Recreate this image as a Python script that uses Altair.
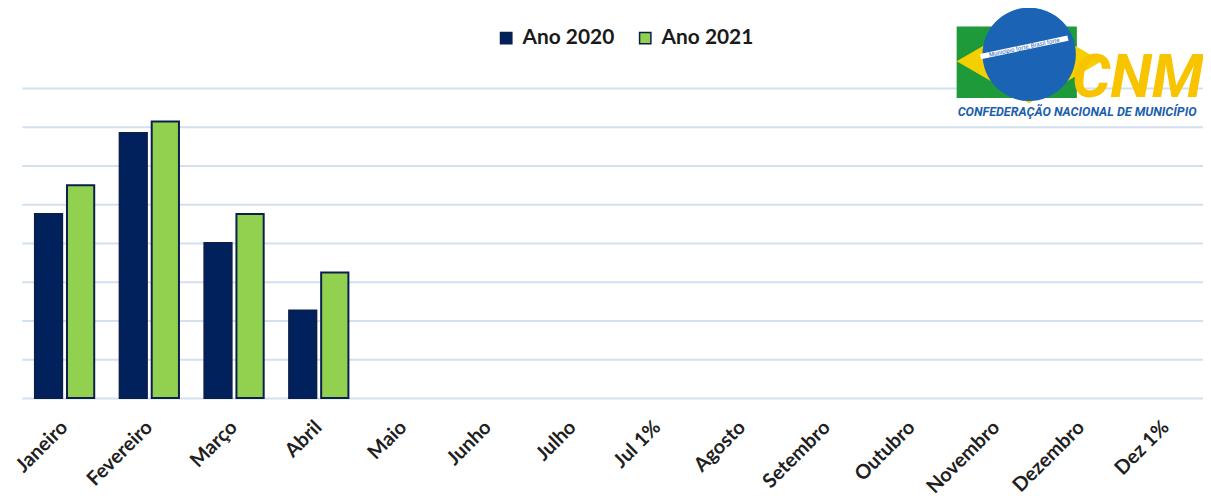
import altair as alt
import pandas as pd

months = ["Janeiro", "Fevereiro", "Março", "Abril", "Maio", "Junho", "Julho",
          "Jul 1%", "Agosto", "Setembro", "Outubro", "Novembro", "Dezembro", "Dez 1%"]
ano_2020 = [4.75, 6.84, 4.0, 2.26, None, None, None, None, None, None, None, None, None, None]
ano_2021 = [5.49, 7.14, 4.75, 3.24, None, None, None, None, None, None, None, None, None, None]
series = ["Ano 2020", "Ano 2021"]
colors = ["#00215b", "#92d050"]
grid_values = [0, 1, 2, 3, 4, 5, 6, 7, 8]

rows = []
for m, a, b in zip(months, ano_2020, ano_2021):
    rows.append({"mes": m, "serie": series[0], "valor": a})
    rows.append({"mes": m, "serie": series[1], "valor": b})
df = pd.DataFrame(rows)

FONT = "Lato"
LOGO_FONT = "Roboto"

bars = alt.Chart(df).mark_bar(stroke="#0b1f4d", strokeWidth=2).encode(
    x=alt.X("mes:N", sort=months, title=None,
            scale=alt.Scale(domain=months, paddingInner=0.3, paddingOuter=0.12, align=0.64),
            axis=alt.Axis(labelAngle=-45, labelAlign="right", labelBaseline="middle",
                          labelFont=FONT, labelFontSize=20, labelFontWeight="bold",
                          labelColor="#1f1f1f", labelPadding=26, ticks=False,
                          domain=False, grid=False, labelOverlap=False)),
    xOffset=alt.XOffset("serie:N", scale=alt.Scale(paddingInner=0.15)),
    y=alt.Y("valor:Q", title=None, scale=alt.Scale(domain=[0, 8], nice=False),
            axis=alt.Axis(values=grid_values, labels=False, ticks=False, domain=False,
                          grid=True, gridColor="#d3e0f0", gridWidth=2)),
    color=alt.Color("serie:N", scale=alt.Scale(domain=series, range=colors),
                    legend=alt.Legend(title=None, orient="none", direction="horizontal",
                                      legendX=477, legendY=-61, symbolType="square",
                                      symbolSize=130, symbolStrokeWidth=1.5,
                                      symbolStrokeColor="#0b1f4d",
                                      labelFont=FONT, labelFontSize=21, labelFontWeight="bold",
                                      labelColor="#1a1a1a", columnPadding=20, labelOffset=6)),
)

one = pd.DataFrame({"k": [0]})

flag_green = alt.Chart(one).mark_rect(color="#1f9a3a").encode(
    x=alt.value(941), x2=alt.value(1062), y=alt.value(-62), y2=alt.value(10))
flag_yellow = alt.Chart(one).mark_point(
    shape="M -1 0 L 0 -0.58 L 1 0 L 0 0.58 Z", filled=True, color="#f5d000", opacity=1,
    size=21316).encode(x=alt.value(1014), y=alt.value(-27))
flag_blue = alt.Chart(one).mark_point(shape="circle", filled=True, color="#1b63b5",
                                      opacity=1, size=8836).encode(
    x=alt.value(1014), y=alt.value(-34))
band_bg = alt.Chart(one).mark_point(shape="M -1 -0.06 L 1 -0.06 L 1 0.06 L -1 0.06 Z",
                                    filled=True, color="white", opacity=1, size=8100,
                                    angle=348).encode(x=alt.value(1009), y=alt.value(-41))
band = alt.Chart(one).mark_text(text="Município forte, Brasil forte", font="Roboto",
                                fontSize=6, color="#1b63b5", angle=348).encode(
    x=alt.value(1009), y=alt.value(-41))
cnm = alt.Chart(one).mark_text(text="CNM", font=LOGO_FONT, fontSize=61,
                               fontWeight="bold", fontStyle="italic", color="#f8c400",
                               align="left", baseline="alphabetic").encode(
    x=alt.value(1057), y=alt.value(9))
sub = alt.Chart(one).mark_text(text="CONFEDERAÇÃO NACIONAL DE MUNICÍPIO",
                               font=LOGO_FONT, fontSize=12.6,
                               fontWeight="bold", fontStyle="italic", color="#1b5fae",
                               align="left", baseline="middle").encode(
    x=alt.value(942), y=alt.value(24))

chart = alt.layer(bars, flag_green, flag_yellow, flag_blue, band_bg, band, cnm, sub).properties(
    width=1189, height=312,
    autosize=alt.AutoSizeParams(type="none"),
    padding={"left": 14, "top": 79, "right": 0, "bottom": 100},
).configure_view(stroke=None)

chart.save("out.html", embed_options={"renderer": "svg", "actions": False})
